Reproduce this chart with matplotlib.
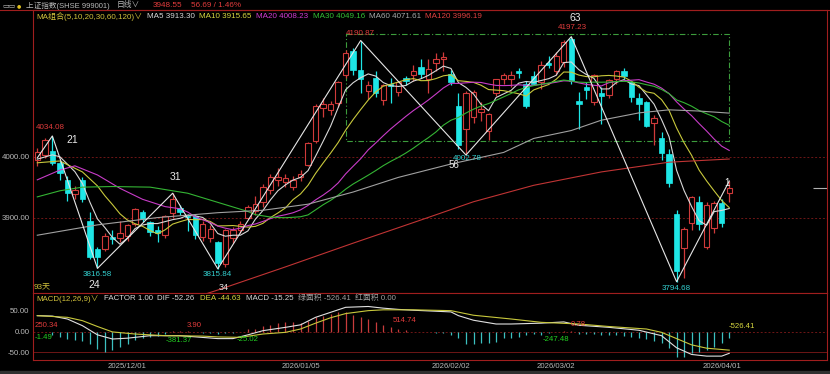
import numpy as np
import pandas as pd
import matplotlib
matplotlib.use('Agg')
import matplotlib.pyplot as plt
from matplotlib.lines import Line2D
from matplotlib.patches import Rectangle

plt.rcParams['font.family'] = ['Liberation Sans', 'Noto Sans CJK SC', 'DejaVu Sans']

# ---------------- data ----------------
opens = [3995, 4003, 4010, 3989, 3962, 3938, 3962, 3895, 3848, 3849,
         3868, 3866, 3869, 3890, 3909, 3892, 3880, 3872, 3908, 3916,
         3903, 3903, 3868, 3866, 3860, 3823, 3866, 3880, 3900, 3910,
         3925, 3945, 3962, 3958, 3950, 3966, 3987, 4026, 4080, 4077,
         4088, 4135, 4174, 4143, 4108, 4130, 4093, 4120, 4107, 4129,
         4134, 4148, 4128, 4154, 4160, 4136, 4083, 4045, 4066, 4074,
         4042, 4105, 4128, 4127, 4140, 4120, 4132, 4122, 4154, 4141,
         4155, 4194, 4092, 4115, 4090, 4104, 4102, 4128, 4140, 4122,
         4097, 4090, 4055, 4030, 4005, 3906, 3850, 3891, 3925, 3852,
         3883, 3924, 3940]
highs = [4015, 4030, 4034.08, 3993, 3968, 3952, 3966, 3909, 3852, 3875,
         3880, 3895, 3890, 3916, 3912, 3895, 3886, 3905, 3940, 3920,
         3906, 3905, 3895, 3888, 3862, 3882, 3885, 3895, 3920, 3936,
         3955, 3972, 3982, 3972, 3968, 3978, 4024, 4086, 4096, 4092,
         4124, 4176, 4178, 4190.87, 4125, 4140, 4120, 4130, 4125, 4132,
         4150, 4160, 4160, 4170, 4172, 4142, 4105, 4108, 4110, 4090,
         4072, 4128, 4138, 4140, 4146, 4124, 4140, 4158, 4165, 4172,
         4192, 4197.23, 4106, 4122, 4136, 4115, 4128, 4142, 4145, 4125,
         4104, 4092, 4068, 4040, 4012, 3912, 3884, 3936, 3935, 3925,
         3928, 3930, 3960]
lows = [3985, 3998, 3986, 3962, 3928, 3930, 3926, 3832, 3816.58, 3845,
        3856, 3860, 3862, 3886, 3893, 3870, 3860, 3866, 3900, 3905,
        3878, 3865, 3862, 3860, 3815.84, 3818, 3858, 3875, 3897, 3905,
        3918, 3938, 3952, 3950, 3945, 3960, 3984, 4022, 4066, 4068,
        4082, 4130, 4135, 4105, 4095, 4098, 4085, 4088, 4100, 4118,
        4125, 4130, 4105, 4140, 4140, 4118, 4012, 4002.78, 4055, 4058,
        4028, 4100, 4120, 4115, 4130, 4080, 4118, 4112, 4145, 4135,
        4148, 4120, 4046, 4095, 4085, 4054, 4096, 4120, 4128, 4090,
        4060, 4048, 4020, 3995, 3950, 3794.68, 3800, 3880, 3880, 3848,
        3875, 3885, 3925]
closes = [4008, 4027, 3990, 3973, 3941, 3946, 3930, 3836, 3836, 3869,
          3865, 3875, 3887, 3914, 3898, 3877, 3875, 3903, 3930, 3909,
          3901, 3871, 3890, 3882, 3825, 3879, 3879, 3890, 3917, 3922,
          3950, 3966, 3966, 3965, 3961, 3972, 4022, 4084, 4087, 4086,
          4123, 4170, 4142, 4128, 4117, 4105, 4117, 4116, 4122, 4125,
          4141, 4136, 4144, 4160, 4163, 4122, 4019, 4105, 4106, 4078,
          4070, 4127, 4135, 4135, 4137, 4084, 4120, 4150, 4150, 4165,
          4188, 4125, 4087, 4110, 4134, 4100, 4126, 4140, 4133, 4098,
          4087, 4050, 4064, 4006, 3957, 3812, 3882, 3933, 3890, 3920,
          3924, 3891.86, 3948.55]

# moving-average values read for bars before the window is full
ma5_early_i = [0, 2, 3]
ma5_early_v = [3996, 4003, 4000]
ma10_early_i = [0, 3, 6, 8]
ma10_early_v = [3990, 3993, 3975, 3952]
ma20_early_i = [0, 3, 5, 8, 11, 14, 17]
ma20_early_v = [3962, 3978, 3985, 3970, 3948, 3930, 3918]
ma30_early_i = [0, 3, 6, 10, 15, 20, 24, 28]
ma30_early_v = [3934, 3944, 3950, 3951, 3950, 3940, 3925, 3910]
# long MAs
ma60_i = [0, 8, 16, 24, 30, 36, 42, 48, 55, 62, 66, 71, 75, 80, 84, 88, 92]
ma60_v = [3871, 3888, 3900, 3908, 3912, 3922, 3942, 3966, 3988, 4007, 4030, 4043,
          4060, 4072, 4077, 4075, 4071.61]
ma120_i = [16, 20, 24, 33, 42, 51, 58, 66, 75, 84, 92]
ma120_v = [3748, 3765, 3781, 3819, 3858, 3896, 3926, 3953, 3975, 3991, 3996.19]

# zigzag pivots
zz_i = [0, 2, 8, 18, 24, 43, 57, 71, 85, 92]
zz_v = [3998, 4034.08, 3816.58, 3940, 3815.84, 4190.87, 4002.78, 4197.23, 3794.68, 3960]

# box
box_i = [41, 92]
box_v = [4026, 4201]

# MACD
dif_i = [0, 2, 4, 6, 8, 10, 12, 15, 19, 24, 26, 28, 30, 33, 35, 37, 39, 41, 44, 46,
         48, 50, 55, 56, 58, 61, 63, 67, 70, 72, 76, 80, 83, 85, 87, 89, 91, 92]
dif_v = [38, 37, 30, 14, -8, -18, -16, -10, -10, -17, -17, -8, 2, 10, 16, 34, 46, 58, 60, 56,
         53, 51, 47, 38, 27, 18, 18, 20, 23, 15, 10, 3, -10, -39, -55, -59, -59, -52.26]
dea_i = [0, 4, 6, 8, 10, 13, 17, 22, 24, 27, 30, 33, 35, 37, 39, 41, 44, 46, 50, 55,
         58, 63, 67, 72, 76, 81, 83, 85, 87, 89, 92]
dea_v = [38, 34, 26, 12, -1, -6, -10, -11, -13, -14, -6, -2, 6, 20, 33, 43, 50, 52, 52, 50,
         39, 30, 22, 18, 12, 6, -2, -17, -32, -40, -44.63]
macd_hist = [-1.49, -2, -8, -12, -17, -20, -23, -30, -42, -48,
             -44, -37, -31, -21, -15, -12, -10, -6, 1.0, 1.6,
             1.3, -2, -3.5, -4.5, -5, -4.5, -3.5, -2, 5.6, 7.2,
             13.7, 15.3, 20, 21.7, 23.3, 20, 25.8, 33.8, 37.8, 41.9,
             45.9, 45.9, 39.4, 33.8, 29.8, 21.7, 15.3, 12, 7.2, 4,
             -1, -1.5, -2, -2.5, -4, -8, -16, -30, -30, -28,
             -28, -24, -16, -14.5, -12, -8, -6.4, -8, -4, -1.6,
             0.4, 0.38, -6.4, -6.4, -6.4, -8, -8, -8, -9.7, -12,
             -14.5, -17.7, -22.5, -28, -40, -60, -60, -52, -48, -44,
             -36, -28, -15.25]

date_ticks = [12, 35, 55, 69, 91]
date_labels = ['2025/12/01', '2026/01/05', '2026/02/02', '2026/03/02', '2026/04/01']

# ---------------- style ----------------
W, H = 830, 374
BG = '#000000'
FRAME = '#a01e1e'
GRID = '#6e1616'
UPC = '#d03a3a'
DNC = '#1ee6e6'
TXT = '#b8b8b8'
REDT = '#e23c3c'
CYT = '#34d2d2'
GRT = '#22d022'
YEL = '#d8d840'
C_MA5, C_MA10, C_MA20, C_MA30, C_MA60, C_MA120 = '#d8d8d8', '#c8c83c', '#c83cc8', '#34b434', '#a0a0a0', '#c03434'

fig = plt.figure(figsize=(W / 100, H / 100), dpi=100, facecolor=BG)


def fx(px):
    return px / W


def fy(py):
    return 1 - py / H


def ftext(x, y, s, **kw):
    kw.setdefault('va', 'center')
    kw.setdefault('ha', 'left')
    fig.text(fx(x), fy(y), s, **kw)


L, R = 33, 827
ax = fig.add_axes([fx(L), fy(293.3), fx(R - L), (293.3 - 10) / H], facecolor=BG)
ax2 = fig.add_axes([fx(L), fy(360), fx(R - L), (360 - 293.3) / H], facecolor=BG)

for a in (ax, ax2):
    for sp in a.spines.values():
        sp.set_color(FRAME)
        sp.set_linewidth(0.8)
    a.set_xlim(-0.57, 105.0)
    a.tick_params(length=0, colors=TXT, labelsize=5.7, pad=2.5)

ax.set_ylim(3775.6, 4241.0)
ax2.set_ylim(-68.3, 91.6)

x = np.arange(len(closes))
o = np.array(opens, float)
c = np.array(closes, float)
h = np.array(highs, float)
l = np.array(lows, float)
up = c >= o
blo = np.minimum(o, c)
bhi = np.maximum(o, c)
bh = np.maximum(bhi - blo, 1.2)

# grid
for lv in (4000, 3900):
    ax.axhline(lv, color=GRID, lw=0.7, ls=(0, (2, 2)), zorder=1)
ax.set_yticks([3900, 4000])
ax.set_yticklabels(['3900.00', '4000.00'])
ax.set_xticks([])

# candles
ax.vlines(x[up], bhi[up], h[up], color=UPC, lw=0.9, zorder=3)
ax.vlines(x[up], l[up], blo[up], color=UPC, lw=0.9, zorder=3)
ax.vlines(x[~up], l[~up], h[~up], color=DNC, lw=0.9, zorder=3)
ax.bar(x[up], bh[up], bottom=blo[up], width=0.72, facecolor=BG, edgecolor=UPC, lw=0.8, zorder=4)
ax.bar(x[~up], bh[~up], bottom=blo[~up], width=0.72, facecolor=DNC, edgecolor=DNC, lw=0.5, zorder=4)

# moving averages
s = pd.Series(c)


def ma_line(win, ei, ev):
    m = s.rolling(win).mean()
    idx = np.concatenate([ei, x[win - 1:]])
    val = np.concatenate([ev, m.values[win - 1:]])
    return idx, val


xi, yv = ma_line(5, ma5_early_i, ma5_early_v)
ax.plot(xi, yv, color=C_MA5, lw=0.8, zorder=5)
xi, yv = ma_line(10, ma10_early_i, ma10_early_v)
ax.plot(xi, yv, color=C_MA10, lw=0.8, zorder=5)
xi, yv = ma_line(20, ma20_early_i, ma20_early_v)
ax.plot(xi, yv, color=C_MA20, lw=0.8, zorder=5)
xi, yv = ma_line(30, ma30_early_i, ma30_early_v)
ax.plot(xi, yv, color=C_MA30, lw=0.8, zorder=5)
ax.plot(ma60_i, ma60_v, color=C_MA60, lw=0.8, zorder=5)
ax.plot(ma120_i, ma120_v, color=C_MA120, lw=0.8, zorder=5)

# zigzag
ax.plot(zz_i, zz_v, color='#e6e6e6', lw=0.8, zorder=6)

# box
bx = [box_i[0], box_i[1], box_i[1], box_i[0], box_i[0]]
by = [box_v[1], box_v[1], box_v[0], box_v[0], box_v[1]]
ax.plot(bx, by, color='#3c9c3c', lw=0.8, ls=(0, (5, 2, 1, 2)), zorder=2)

# current price marker on right
ax.hlines(c[-1], 103.2, 105.0, color='#b0b0b0', lw=0.8)


def ann(i, v, t, col, dx, dy, size=5.8, **kw):
    ax.annotate(t, (i, v), xytext=(dx, dy), textcoords='offset pixels', ha='center', va='center',
                color=col, fontsize=size, zorder=8, annotation_clip=False, **kw)


WH = '#e8e8e8'
ann(2, 4034.08, '4034.08', REDT, -2, 8)
ann(2, 4034.08, '21', WH, 20, -4, 7.5)
ann(8, 3816.58, '3816.58', CYT, 0, -6)
ann(8, 3816.58, '24', WH, -3, -17, 7.5)
ann(18, 3940, '31', WH, 3, 16, 7.5)
ann(24, 3815.84, '3815.84', CYT, 0, -6)
ann(24, 3815.84, '34', WH, 6, -19, 6.5)
ann(43, 4190.87, '4190.87', REDT, 0, 7)
ann(57, 4002.78, '4002.78', CYT, 1, -3)
ann(57, 4002.78, '56', WH, -12, -10, 7.0)
ann(71, 4197.23, '4197.23', REDT, 1, 9)
ann(71, 4197.23, '63', WH, 4, 19, 7.5)
ann(85, 3794.68, '3794.68', CYT, 0, -6.5)
ann(92, 3960, '1', WH, -2, -2, 7.0)

# ---------------- MACD ----------------
hist = np.array(macd_hist)
cols = np.where(hist > 0, '#c83c3c', '#3cc0c0')
ax2.vlines(x, 0, hist, colors=cols, lw=0.9, zorder=3)
ax2.plot(dif_i, dif_v, color='#e0e0e0', lw=0.8, zorder=4)
ax2.plot(dea_i, dea_v, color='#c8c83c', lw=0.8, zorder=4)
ax2.axhline(0, color=GRID, lw=0.7, ls=(0, (2, 2)), zorder=1)
ax2.axhline(-50, color=GRID, lw=0.7, zorder=1)
ax2.set_yticks([-50, 0, 50])
ax2.set_yticklabels(['-50.00', '0.00', '50.00'])
ax2.set_xticks(date_ticks)
ax2.set_xticklabels(date_labels)
ax2.tick_params(axis='x', pad=2.5, labelsize=5.6)

# ---------------- header & legends ----------------
fig.add_artist(Line2D([0, 1], [fy(9.5)] * 2, color=FRAME, lw=0.8, transform=fig.transFigure))
fig.patches.append(Rectangle((0, 0), 1, 3.5 / H, transform=fig.transFigure, color='#303030'))

ftext(2, 5.5, '▭▭', color=TXT, fontsize=5, family=['DejaVu Sans'])
ftext(17, 5.5, '●', color='#e0c020', fontsize=3.5, family=['DejaVu Sans'])
ftext(26, 5.5, '上证指数(SHSE 999001)', color=TXT, fontsize=5.5)
ftext(117, 5.5, '日线∨', color=TXT, fontsize=5.6)
ftext(153, 5.5, '3948.55', color=REDT, fontsize=5.9)
ftext(191, 5.5, '56.69 / 1.46%', color=REDT, fontsize=5.9)

ftext(36, 16.5, 'MA组合(5,10,20,30,60,120)∨', color='#d2c23c', fontsize=5.8)
ftext(147, 16.5, 'MA5 3913.30', color='#d8d8d8', fontsize=5.8)
ftext(199, 16.5, 'MA10 3915.65', color='#d8d840', fontsize=5.8)
ftext(256, 16.5, 'MA20 4008.23', color='#d23cd2', fontsize=5.8)
ftext(313, 16.5, 'MA30 4049.16', color='#34c034', fontsize=5.8)
ftext(369, 16.5, 'MA60 4071.61', color='#a8a8a8', fontsize=5.8)
ftext(425, 16.5, 'MA120 3996.19', color='#e04040', fontsize=5.8)

ftext(34, 286.5, '93天', color='#d2c23c', fontsize=5.8)

ftext(36, 298.5, 'MACD(12,26,9)∨', color='#d2c23c', fontsize=5.7)
ftext(104, 298.5, 'FACTOR 1.00', color='#d8d8d8', fontsize=5.7)
ftext(157, 298.5, 'DIF -52.26', color='#d8d8d8', fontsize=5.7)
ftext(200, 298.5, 'DEA -44.63', color='#d8d840', fontsize=5.7)
ftext(246, 298.5, 'MACD -15.25', color='#d8d8d8', fontsize=5.7)
ftext(298, 298.5, '绿面积 -526.41', color='#a0a0a0', fontsize=5.7)
ftext(355, 298.5, '红面积 0.00', color='#a0a0a0', fontsize=5.7)

ftext(35, 325.5, '250.34', color=REDT, fontsize=5.6)
ftext(35, 337.5, '-1.49', color=GRT, fontsize=5.6)
ftext(187, 325.5, '3.90', color=REDT, fontsize=5.6)
ftext(166, 340.5, '-381.37', color=GRT, fontsize=5.6)
ftext(237, 339.5, '-25.02', color=GRT, fontsize=5.6)
ftext(393, 320.5, '514.74', color=REDT, fontsize=5.6)
ftext(571, 324, '0.78', color=REDT, fontsize=5.6)
ftext(543, 339.5, '-247.48', color=GRT, fontsize=5.6)
ftext(729, 326.5, '-526.41', color=YEL, fontsize=5.6)

fig.savefig('out.png', dpi=100, facecolor=BG)
